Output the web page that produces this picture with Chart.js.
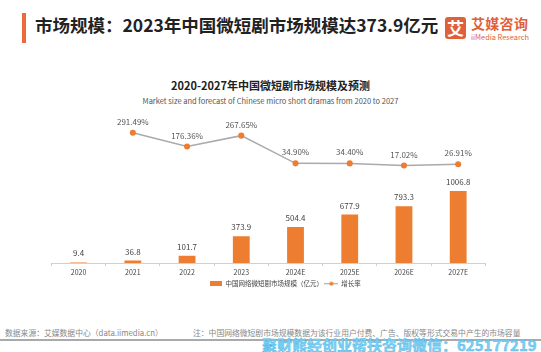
<!DOCTYPE html>
<html lang="zh">
<head>
<meta charset="UTF-8">
<title>中国微短剧市场规模</title>
<script src="https://cdn.jsdelivr.net/npm/chart.js@4.4.0/dist/chart.umd.min.js"></script>
<style>
  body { margin: 0; background: #fff; font-family: "Noto Sans CJK SC", "Noto Sans", sans-serif; }
  #page { position: relative; width: 541px; height: 352px; overflow: hidden; background: #fff; }
  .abs { position: absolute; white-space: nowrap; }
  #bar { left: 22px; top: 13px; width: 4px; height: 30px; background: #ec6a3b; }
  #title { left: 35px; top: 13px; font-size: 17.5px; font-weight: bold; color: #222; line-height: 24px; }
  #logoBox { left: 445px; top: 17px; width: 21px; height: 22px; background: #e0603a; border-radius: 3px;
             color: #fff; font-size: 17px; font-weight: bold; text-align: center; line-height: 22px; }
  #logoCn { left: 471px; top: 15px; font-size: 14px; font-weight: bold; color: #e0603a; line-height: 17px; letter-spacing: 0.3px; }
  #logoEn { left: 471px; top: 31.5px; font-size: 7.4px; color: #e0603a; line-height: 9px; }
  #ctitle { left: 0; width: 541px; top: 78px; text-align: center; font-size: 11px; font-weight: bold; color: #222; line-height: 14px; }
  #csub { left: 0; width: 541px; top: 96px; text-align: center; font-size: 7.5px; color: #555; line-height: 10px; }
  #wrap { left: 0; top: 110px; width: 541px; height: 190px; }
  #src { left: 5px; top: 327.5px; font-size: 7.8px; color: #888; line-height: 10px; }
  #note { left: 193px; top: 327.5px; font-size: 7.8px; color: #888; line-height: 10px; }
  #rule { left: 0; top: 338.5px; width: 541px; height: 2px; background: #aaa; }
  #wm { left: 262px; top: 335.5px; font-size: 15px; font-weight: bold; color: #7fd0f2; line-height: 17px;
        -webkit-text-stroke: 0.4px #4bb8e8; }
</style>
</head>
<body>
<div id="page">
  <div id="bar" class="abs"></div>
  <div id="title" class="abs">市场规模：2023年中国微短剧市场规模达373.9亿元</div>
  <div id="logoBox" class="abs">艾</div>
  <div id="logoCn" class="abs">艾媒咨询</div>
  <div id="logoEn" class="abs">iiMedia Research</div>
  <div id="ctitle" class="abs">2020-2027年中国微短剧市场规模及预测</div>
  <div id="csub" class="abs">Market size and forecast of Chinese micro short dramas from 2020 to 2027</div>
  <div id="wrap" class="abs"><canvas id="chart" width="541" height="190"></canvas></div>
  <div id="src" class="abs">数据来源：艾媒数据中心（data.iimedia.cn）</div>
  <div id="note" class="abs">注：中国网络微短剧市场规模数据为该行业用户付费、广告、版权等形式交易中产生的市场容量</div>
  <div id="rule" class="abs"></div>
  <div id="wm" class="abs">聚财熊经创业帮扶咨询微信：625177219</div>
</div>

<script>
  const years = ['2020', '2021', '2022', '2023', '2024E', '2025E', '2026E', '2027E'];
  const marketSize = [9.4, 36.8, 101.7, 373.9, 504.4, 677.9, 793.3, 1006.8];
  const growthRate = [null, 291.49, 176.36, 267.65, 34.90, 34.40, 17.02, 26.91];

  const orange = '#ed7d31';
  const font = '"Noto Sans CJK SC", "Noto Sans", sans-serif';

  // legend symbols
  function barSymbol() {
    const c = document.createElement('canvas');
    c.width = 12; c.height = 5;
    const g = c.getContext('2d');
    g.fillStyle = orange;
    g.fillRect(0, 0, 12, 5);
    return c;
  }
  function lineSymbol() {
    const c = document.createElement('canvas');
    c.width = 14; c.height = 5;
    const g = c.getContext('2d');
    g.strokeStyle = '#aaa';
    g.lineWidth = 1.2;
    g.beginPath(); g.moveTo(0, 2.5); g.lineTo(14, 2.5); g.stroke();
    g.fillStyle = orange;
    g.beginPath(); g.arc(7, 2.5, 2, 0, Math.PI * 2); g.fill();
    return c;
  }

  // value labels above bars and points
  const valueLabels = {
    id: 'valueLabels',
    afterDatasetsDraw(chart) {
      const ctx = chart.ctx;
      ctx.save();
      ctx.textAlign = 'center';
      ctx.textBaseline = 'middle';
      chart.data.datasets.forEach((ds, i) => {
        const meta = chart.getDatasetMeta(i);
        meta.data.forEach((el, j) => {
          const v = ds.data[j];
          if (v == null) return;
          ctx.font = '8px ' + font;
          if (ds.type === 'line') {
            ctx.fillStyle = '#555';
            ctx.fillText(v.toFixed(2) + '%', el.x, el.y - 11);
          } else {
            ctx.fillStyle = '#444';
            ctx.fillText(v.toFixed(1), el.x, el.y - 9);
          }
        });
      });
      ctx.restore();
    }
  };

  new Chart(document.getElementById('chart'), {
    data: {
      labels: years,
      datasets: [
        {
          type: 'line',
          label: '增长率',
          data: growthRate,
          yAxisID: 'y1',
          borderColor: '#aaa',
          borderWidth: 1.5,
          pointBackgroundColor: orange,
          pointBorderColor: orange,
          pointRadius: 2.3,
          tension: 0
        },
        {
          type: 'bar',
          label: '中国网络微短剧市场规模（亿元）',
          data: marketSize,
          yAxisID: 'y',
          backgroundColor: orange,
          barPercentage: 0.31,
          categoryPercentage: 1
        }
      ]
    },
    options: {
      responsive: false,
      animation: false,
      layout: { padding: { left: 51.5, right: 22.7, top: 5, bottom: 3 } },
      scales: {
        x: {
          grid: { drawOnChartArea: false, tickLength: 3, color: '#d0d0d0', offset: true },
          border: { color: '#d0d0d0' },
          ticks: { font: { size: 7, family: font }, color: '#444', padding: 2 }
        },
        y: {
          display: false,
          min: 0,
          max: 2063
        },
        y1: {
          position: 'right',
          min: -803.6,
          max: 437,
          grid: { display: false },
          border: { display: false },
          ticks: { display: false },
          afterFit(scale) { scale.width = 33; }
        }
      },
      plugins: {
        tooltip: { enabled: false },
        legend: {
          position: 'bottom',
          labels: {
            usePointStyle: true,
            pointStyleWidth: 13,
            padding: 2,
            boxHeight: 5,
            font: { size: 6.5, family: font },
            color: '#444',
            generateLabels(chart) {
              return [
                { text: '中国网络微短剧市场规模（亿元）', pointStyle: barSymbol(), datasetIndex: 1, fontColor: '#444', hidden: false, lineWidth: 0 },
                { text: '增长率', pointStyle: lineSymbol(), datasetIndex: 0, fontColor: '#444', hidden: false, lineWidth: 0 }
              ];
            }
          }
        }
      }
    },
    plugins: [valueLabels]
  });
</script>
</body>
</html>
